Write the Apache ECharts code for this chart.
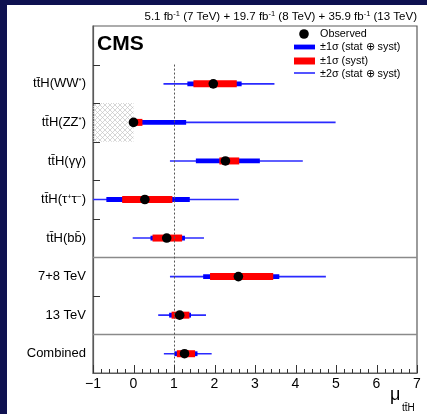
<!DOCTYPE html>
<html>
<head>
<meta charset="utf-8">
<script src="https://cdn.jsdelivr.net/npm/echarts/dist/echarts.min.js"></script>
<style>
  html, body { margin: 0; padding: 0; background: #0e1150; }
  #paper { position: absolute; left: 7px; top: 5px; width: 420px; height: 409px; background: #ffffff; }
  #chart { position: absolute; left: 0; top: 0; width: 427px; height: 414px; }
</style>
</head>
<body>
<div id="paper"></div>
<div id="chart"></div>
<script>
// Row labels, top to bottom (first slot holds the CMS label and legend)
const categories = [
  '',
  'tt̄H(WW{s|*})',
  'tt̄H(ZZ{s|*})',
  'tt̄H(γγ)',
  'tt̄H(τ{s|+}τ{s|−})',
  'tt̄H(bb̄)',
  '7+8 TeV',
  '13 TeV',
  'Combined'
];
const rowNames = categories.slice(1);

// Best-fit signal strength and its intervals
const observed  = [1.97, 0.00, 2.27, 0.28, 0.82, 2.59, 1.14, 1.26];
const total2Lo  = [0.74, 0.00, 0.90, -1.00, -0.02, 0.90, 0.61, 0.75];
const total2Hi  = [3.48, 4.99, 4.18, 2.60, 1.74, 4.75, 1.79, 1.93];
const total1Lo  = [1.33, 0.00, 1.54, -0.67, 0.42, 1.72, 0.88, 1.01];
const total1Hi  = [2.67, 1.30, 3.12, 1.39, 1.27, 3.60, 1.42, 1.58];
const systLo    = [1.48, 0.00, 2.12, -0.28, 0.47, 1.89, 0.94, 1.07];
const systHi    = [2.55, 0.22, 2.61, 0.96, 1.20, 3.45, 1.38, 1.52];

// x-axis tick labels
const xTickLabels = ['−1', '0', '1', '2', '3', '4', '5', '6', '7'];

// Excluded (unphysical) region for the ZZ* channel
const excludedRange = [-1, 0];
const excludedRow = 2;
// Row boundaries carrying a short tick, group separators, SM reference value
const rowTickBoundaries = [1, 2, 3, 4, 5, 7];
const groupBreaks = [6, 8];
const smValue = 1;

const FONT = '"Liberation Sans", Arial, Helvetica, sans-serif';
const FRAME = '#5a5a5a';
const TICK = '#333';

// Cross-hatch fill
const hatch = document.createElement('canvas');
hatch.width = 5; hatch.height = 5;
(function () {
  const g = hatch.getContext('2d');
  g.strokeStyle = '#c4c4c4';
  g.lineWidth = 0.7;
  g.beginPath();
  g.moveTo(0, 0); g.lineTo(5, 5);
  g.moveTo(5, 0); g.lineTo(0, 5);
  g.stroke();
})();

const chart = echarts.init(document.getElementById('chart'), null, { renderer: 'canvas' });

const fitData = rowNames.map((n, i) => [observed[i], n, total2Lo[i], total2Hi[i], total1Lo[i], total1Hi[i], systLo[i], systHi[i]]);

// x ticks: majors at each labelled integer, four minors in between
const xTicks = [];
for (let i = 0; i <= (xTickLabels.length - 1) * 5; i++) {
  xTicks.push([-1 + i * 0.2, i % 5 === 0 ? 1 : 0]);
}
const yTicks = rowTickBoundaries.map(b => [-1, b]);

function renderFit(params, api) {
  const y = api.value(1);
  const pt = v => api.coord([v, y]);
  const seg = (a, b, w, color) => {
    const A = pt(a), B = pt(b);
    return { type: 'line', shape: { x1: A[0], y1: A[1], x2: B[0], y2: B[1] },
             style: { stroke: color, lineWidth: w, lineCap: 'butt' } };
  };
  const c = pt(api.value(0));
  return {
    type: 'group',
    children: [
      seg(api.value(2), api.value(3), 1.6, '#2a2aff'),
      seg(api.value(4), api.value(5), 4.8, '#0000ff'),
      seg(api.value(6), api.value(7), 7, '#ff0000'),
      { type: 'circle', shape: { cx: c[0], cy: c[1], r: 4.8 }, style: { fill: '#000' } }
    ]
  };
}

function renderYTick(params, api) {
  const p = api.coord([api.value(0), api.value(1)]);
  const y = Math.round(p[1]) + 0.5;
  return { type: 'line', shape: { x1: p[0], y1: y, x2: p[0] + 7, y2: y },
           style: { stroke: TICK, lineWidth: 1 } };
}

const option = {
  animation: false,
  grid: { left: 93, top: 26, width: 324, height: 347, show: true, borderColor: FRAME, borderWidth: 1.2 },
  xAxis: {
    type: 'value', min: -1, max: 7, interval: 1,
    axisLine: { show: true, onZero: false, lineStyle: { color: FRAME, width: 1.2 } },
    axisTick: { show: false },
    minorTick: { show: false },
    splitLine: { show: false },
    axisLabel: { fontSize: 14, color: '#000', margin: 4, fontFamily: FONT,
                 formatter: v => xTickLabels[Math.round(v) + 1] }
  },
  yAxis: [
    {
      type: 'category', data: categories, inverse: true,
      axisLine: { show: true, onZero: false, lineStyle: { color: FRAME, width: 1.2 } },
      axisTick: { show: false },
      splitLine: { show: false },
      axisLabel: {
        fontSize: 13, color: '#000', margin: 7, fontFamily: FONT,
        rich: { s: { fontSize: 8, color: '#000', fontFamily: FONT, padding: [0, 0, 6, 0] } }
      }
    },
    { type: 'value', min: 0, max: 9, inverse: true, show: false, axisLine: { onZero: false } }
  ],
  series: [
    {
      type: 'line', xAxisIndex: 0, yAxisIndex: 1, data: [], silent: true,
      markArea: {
        silent: true,
        itemStyle: { color: { image: hatch, repeat: 'repeat' } },
        data: [[{ xAxis: excludedRange[0], yAxis: excludedRow }, { xAxis: excludedRange[1], yAxis: excludedRow + 1 }]]
      },
      markLine: {
        silent: true, symbol: 'none', label: { show: false },
        data: [
          ...groupBreaks.map(b => [
            { xAxis: -1, yAxis: b, lineStyle: { color: '#8a8a8a', width: 1.3, type: 'solid' } },
            { xAxis: 7, yAxis: b }
          ]),
          [
            { xAxis: smValue, yAxis: 1, lineStyle: { color: '#555', width: 1, type: [2, 2] } },
            { xAxis: smValue, yAxis: 9 }
          ]
        ]
      }
    },
    {
      type: 'custom', xAxisIndex: 0, yAxisIndex: 1, silent: true, clip: false,
      renderItem: renderYTick, data: yTicks, encode: { x: 0, y: 1 }, z: 4
    },
    {
      type: 'custom', xAxisIndex: 0, yAxisIndex: 0,
      renderItem: renderFit, data: fitData, z: 5,
      encode: { x: 0, y: 1 }
    }
  ],
  graphic: [
    { type: 'text', right: 10, top: 10,
      style: { text: '5.1 fb{s|-1} (7 TeV) + 19.7 fb{s|-1} (8 TeV) + 35.9 fb{s|-1} (13 TeV)',
               font: '11.5px ' + FONT, fill: '#000',
               rich: { s: { fontSize: 7.5, fontFamily: FONT, padding: [0, 0, 5, 0] } } } },
    { type: 'text', x: 97, y: 44, style: { text: 'CMS', font: 'bold 21px ' + FONT, fill: '#000', textVerticalAlign: 'middle' } },

    { type: 'circle', shape: { cx: 304, cy: 34, r: 4.8 }, style: { fill: '#000' } },
    { type: 'text', x: 320, y: 34, style: { text: 'Observed', font: '10.8px ' + FONT, fill: '#000', textVerticalAlign: 'middle' } },
    { type: 'line', shape: { x1: 294, y1: 47, x2: 315, y2: 47 }, style: { stroke: '#0000ff', lineWidth: 4.8 } },
    { type: 'text', x: 320, y: 47, style: { text: '±1σ (stat ⊕ syst)', font: '10.8px ' + FONT, fill: '#000', textVerticalAlign: 'middle' } },
    { type: 'line', shape: { x1: 294, y1: 61, x2: 315, y2: 61 }, style: { stroke: '#ff0000', lineWidth: 7 } },
    { type: 'text', x: 320, y: 61, style: { text: '±1σ (syst)', font: '10.8px ' + FONT, fill: '#000', textVerticalAlign: 'middle' } },
    { type: 'line', shape: { x1: 294, y1: 73, x2: 315, y2: 73 }, style: { stroke: '#2a2aff', lineWidth: 1.6 } },
    { type: 'text', x: 320, y: 74, style: { text: '±2σ (stat ⊕ syst)', font: '10.8px ' + FONT, fill: '#000', textVerticalAlign: 'middle' } },

    { type: 'text', x: 390, y: 395, style: { text: 'μ', font: '18px ' + FONT, fill: '#000', textVerticalAlign: 'middle' } },
    { type: 'text', x: 402, y: 408, style: { text: 'tt̄H', font: '10px ' + FONT, fill: '#000', textVerticalAlign: 'middle' } }
  ]
};

chart.setOption(option);

// Bottom-axis ticks placed through the axis scale once the grid is laid out
try {
  const bottomY = chart.convertToPixel({ yAxisIndex: 1 }, 9);
  const tickLines = xTicks.map(([v, major]) => {
    const x = Math.round(chart.convertToPixel({ xAxisIndex: 0 }, v)) + 0.5;
    return { type: 'line', z: 100, silent: true,
             shape: { x1: x, y1: bottomY, x2: x, y2: bottomY - (major ? 8 : 4) },
             style: { stroke: TICK, lineWidth: 1 } };
  });
  if (tickLines.every(t => isFinite(t.shape.x1) && isFinite(t.shape.y1))) {
    option.graphic = option.graphic.concat(tickLines);
    chart.setOption(option, true);
  }
} catch (e) { /* ticks are optional decoration */ }
</script>
</body>
</html>
